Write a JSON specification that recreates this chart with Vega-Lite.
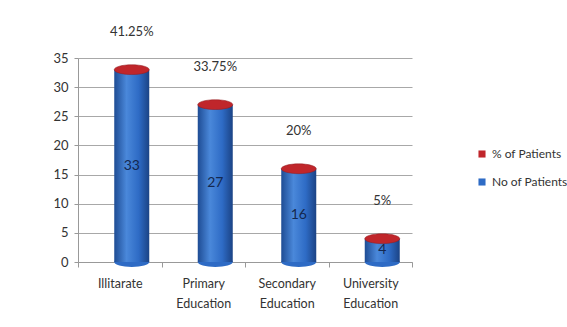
{
  "$schema": "https://vega.github.io/schema/vega-lite/v6.json",
  "width": 334,
  "height": 204,
  "autosize": {"type": "none"},
  "padding": {"left": 78, "top": 58, "right": 155, "bottom": 65},
  "background": "white",
  "config": {
    "view": {"stroke": null},
    "font": "Lato",
    "text": {"font": "Lato"}
  },
  "data": {
    "values": [
      {"level": "Illitarate", "count": 33, "pct": "41.25%"},
      {"level": "Primary Education", "count": 27, "pct": "33.75%"},
      {"level": "Secondary Education", "count": 16, "pct": "20%"},
      {"level": "University Education", "count": 4, "pct": "5%"}
    ]
  },
  "encoding": {
    "x": {
      "field": "level",
      "type": "nominal",
      "sort": null,
      "scale": {"paddingInner": 0, "paddingOuter": 0},
      "axis": {
        "title": null,
        "labelAngle": 0,
        "labelExpr": "split(datum.label, ' ')",
        "labelBaseline": "top",
        "labelPadding": 10,
        "labelFont": "Lato",
        "labelFontSize": 12.5,
        "labelColor": "#333333",
        "labelLineHeight": 20,
        "tickBand": "extent",
        "tickSize": 5,
        "tickColor": "#999999",
        "domainColor": "#999999",
        "grid": false
      }
    },
    "y": {
      "field": "count",
      "type": "quantitative",
      "scale": {"domain": [0, 35], "nice": false},
      "axis": {
        "title": null,
        "values": [0, 5, 10, 15, 20, 25, 30, 35],
        "labelOverlap": false,
        "labelFont": "Lato",
        "labelFontSize": 13,
        "labelColor": "#333333",
        "labelPadding": 6,
        "tickSize": 4,
        "tickColor": "#999999",
        "domainColor": "#999999",
        "grid": true,
        "gridColor": "#A8A8A8",
        "gridWidth": 1
      }
    }
  },
  "layer": [
    {
      "mark": {"type": "point", "filled": true, "opacity": 1, "size": 1225, "shape": "M-1,0A1,0.28,0,1,0,1,0A1,0.28,0,1,0,-1,0Z", "xOffset": 12, "strokeWidth": 0},
      "encoding": {
        "y": {"datum": 0, "type": "quantitative"},
        "color": {"datum": "No of Patients"}
      }
    },
    {
      "mark": {
        "type": "bar",
        "width": 35,
        "xOffset": 12,
        "color": {
          "gradient": "linear",
          "x1": 0, "x2": 1, "y1": 0, "y2": 0,
          "stops": [
            {"offset": 0, "color": "#1E4C94"},
            {"offset": 0.35, "color": "#4A88DA"},
            {"offset": 0.7, "color": "#2E6BC5"},
            {"offset": 1, "color": "#1B4385"}
          ]
        }
      }
    },
    {
      "mark": {"type": "point", "filled": true, "opacity": 1, "size": 1225, "shape": "M-1,0A1,0.28,0,1,0,1,0A1,0.28,0,1,0,-1,0Z", "xOffset": 12, "stroke": "#8E1A1E", "strokeWidth": 0.5},
      "encoding": {
        "color": {
          "datum": "% of Patients",
          "scale": {"domain": ["% of Patients", "No of Patients"], "range": ["#C0262B", "#2E6BC5"]},
          "legend": {
            "title": null,
            "orient": "none",
            "legendX": 398,
            "legendY": 90,
            "symbolType": "square",
            "symbolSize": 50,
            "symbolStrokeWidth": 0,
            "labelFont": "Lato",
            "labelFontSize": 12,
            "labelColor": "#333333",
            "rowPadding": 16
          }
        }
      }
    },
    {
      "transform": [{"calculate": "datum.count / 2", "as": "mid"}],
      "mark": {"type": "text", "xOffset": 12, "fontSize": 14, "color": "#14284F", "baseline": "middle"},
      "encoding": {
        "y": {"field": "mid", "type": "quantitative"},
        "text": {"field": "count", "type": "quantitative"}
      }
    },
    {
      "mark": {"type": "text", "xOffset": 12, "dy": -38, "fontSize": 13, "color": "#333333", "baseline": "middle"},
      "encoding": {
        "text": {"field": "pct", "type": "nominal"}
      }
    }
  ]
}
